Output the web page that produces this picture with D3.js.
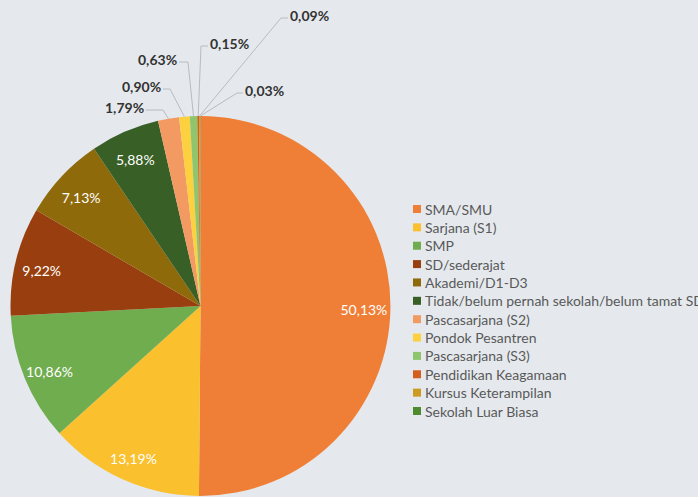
<!DOCTYPE html>
<html><head><meta charset="utf-8">
<script src="https://cdn.jsdelivr.net/npm/d3@7"></script>
<style>
html,body{margin:0;padding:0;background:#e5e9ee;}
svg{display:block;font-family:Lato,"Open Sans",sans-serif;}
</style></head>
<body>
<svg id="c" width="698" height="497"></svg>
<script>
const categories = ["SMA/SMU","Sarjana (S1)","SMP","SD/sederajat","Akademi/D1-D3","Tidak/belum pernah sekolah/belum tamat SD","Pascasarjana (S2)","Pondok Pesantren","Pascasarjana (S3)","Pendidikan Keagamaan","Kursus Keterampilan","Sekolah Luar Biasa"];
const values = [50.13,13.19,10.86,9.22,7.13,5.88,1.79,0.90,0.63,0.15,0.09,0.03];
const colors = ["#ef7f37","#fbc02d","#6fad4e","#993f0f","#8f6a0b","#385f25","#f39a63","#fdd03f","#8fc66d","#d45f1d","#cd9a22","#4e8a2e"];
// outside label layout: [textX, textY(center), elbowX] for small slices (index >= 6)
const outsideLayout = {
  6:[105,107,163],
  7:[122,86,170],
  8:[138,59,188],
  9:[210,43,201],
  10:[290,15,281],
  11:[245,90,237]
};

const svg = d3.select("#c");
const cx = 200.5, cy = 306, r = 190;
const fmt = v => d3.format(".2f")(v).replace(".", ",") + "%";

const pie = d3.pie().sort(null).value(d => d.v);
const data = pie(categories.map((c,i)=>({c, v: values[i], i})));
const arc = d3.arc().innerRadius(0).outerRadius(r);
const labelArc = d3.arc().innerRadius(r*0.86).outerRadius(r*0.86);
const color = d3.scaleOrdinal().domain(categories).range(colors);

const g = svg.append("g").attr("transform", `translate(${cx},${cy})`);
g.selectAll("path.slice").data(data).join("path")
  .attr("class","slice").attr("d", arc).attr("fill", d => color(d.data.c));

// inside labels
g.selectAll("text.in").data(data.filter(d => d.data.i < 6)).join("text")
  .attr("class","in")
  .attr("transform", d => { const [x,y] = labelArc.centroid(d); return `translate(${x},${y+3})`; })
  .attr("text-anchor","middle").attr("dominant-baseline","central")
  .attr("fill","#fff").attr("font-size",14).attr("font-weight",400)
  .text(d => fmt(d.data.v));

// outside labels with leader lines
const outer = data.filter(d => d.data.i >= 6);
outer.forEach(d => {
  const L = outsideLayout[d.data.i];
  const a = (d.startAngle + d.endAngle)/2;
  const px = cx + Math.sin(a)*r, py = cy - Math.cos(a)*r;
  const tx = L[0], ty = L[1], ex = L[2];
  const textW = 39;
  const lineY = ty + 3;
  let startX;
  if (ex < tx) startX = tx - 2; else startX = tx + textW + 2;
  svg.append("polyline")
    .attr("points", `${startX},${lineY} ${ex},${lineY} ${px},${py}`)
    .attr("fill","none").attr("stroke","#b8bcc0").attr("stroke-width",1);
  svg.append("text").attr("x", tx).attr("y", ty)
    .attr("dominant-baseline","central")
    .attr("fill","#333").attr("font-size",14).attr("font-weight",700)
    .text(fmt(d.data.v));
});

// legend
const ly = d3.scaleLinear().domain([0, categories.length-1]).range([209, 411]);
const leg = svg.append("g");
categories.forEach((c,i) => {
  leg.append("rect").attr("x",413).attr("y",ly(i)-4).attr("width",8).attr("height",8).attr("fill",color(c));
  leg.append("text").attr("x",425).attr("y",ly(i)).attr("dominant-baseline","central")
    .attr("fill","#595959").attr("font-size",14).text(c);
});
</script>
</body></html>
